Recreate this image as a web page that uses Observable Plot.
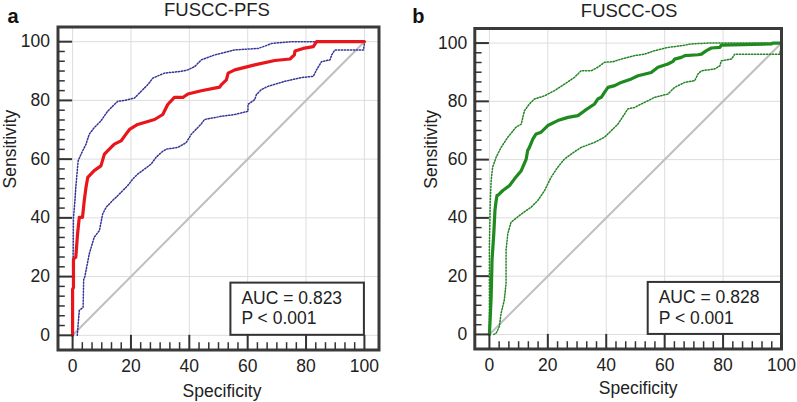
<!DOCTYPE html>
<html>
<head>
<meta charset="utf-8">
<script src="https://cdn.jsdelivr.net/npm/d3@7"></script>
<script src="https://cdn.jsdelivr.net/npm/@observablehq/plot@0.6"></script>
<style>
  body { margin: 0; background: #fff; }
  #chart { position: relative; width: 797px; height: 402px; overflow: hidden; background: #fff; }
  #chart svg { position: absolute; top: 0; }
</style>
</head>
<body>
<div id="chart"></div>
<script>
// ---------- data ----------
const majorTicks = [0, 20, 40, 60, 80, 100];
const diagonal = [0, 100];
const panelLetters = ["a", "b"];
const panelTitles = ["FUSCC-PFS", "FUSCC-OS"];
const xLabel = "Specificity";
const yLabel = "Sensitivity";
const pfsStats = ["AUC = 0.823", "P < 0.001"];
const osStats = ["AUC = 0.828", "P < 0.001"];

// [x, sensitivity]
const pfsRoc = [[0,0],[0,15.7],[0.3,16.3],[0.3,26],[1.1,26.6],[1.7,34.5],[2.3,40.2],[3.4,40.2],[4,45.9],[4.6,50.4],[5.2,53.8],[7.4,56.1],[9.7,57.7],[10.9,61.7],[12,62.8],[14.3,65.1],[16.6,66.2],[18.3,68.5],[19.5,70.1],[22.3,71.8],[28.1,73.5],[30.9,75.2],[32.6,78.6],[34.9,81],[37.8,81],[39.5,82.2],[44.1,83.3],[50.4,84.5],[51,85.4],[52.7,87],[53.3,89.3],[55.6,90.4],[62.4,92.1],[69.3,93.6],[74.5,94.1],[76,95.5],[76.2,96.8],[79,97.7],[82.5,98.3],[83.6,100],[100,100]];
const pfsUpper = [[0,0],[0.3,40],[0.8,45.9],[1.1,50.4],[1.5,54.9],[1.9,59.4],[2.9,61.7],[4.6,65.1],[5.7,68.5],[7.4,70.7],[9.7,73],[12,76.3],[14.3,78.6],[15.5,79.7],[17.8,80],[21.2,80.8],[23.5,83.1],[25.8,85.4],[27.5,87.6],[31.5,89.3],[37.2,89.9],[39.5,90.4],[41.8,91.5],[44.1,93.8],[48.7,95.5],[55.6,97.2],[63.6,97.7],[67,98.9],[68.2,99.4],[75,100],[100,100]];
const pfsLower = [[1.6,0],[2.3,8.5],[3.6,9.5],[3.8,19],[4.2,20],[5.7,27.7],[7.4,33.4],[9.2,35.7],[10.3,41.3],[11.5,43.6],[13.7,45.9],[14.9,47],[16.6,48.7],[18.9,51],[20.6,53.2],[22.3,54.9],[24.6,56.6],[26.9,58.3],[28.6,60.6],[30.4,62.3],[32.1,63.4],[36.1,64],[38.9,65.6],[40.7,68.5],[44.1,72],[45.2,73.5],[51,74.6],[55.6,75.2],[60.1,76.3],[60.1,78.6],[62.4,80.3],[63,82],[64.7,83.7],[67,84.8],[72.7,86.5],[78.5,87.8],[82.5,88.2],[83.6,90.4],[85.3,93.2],[88.2,93.8],[88.8,95.5],[89.9,97.2],[99.7,97.2],[100,99.4],[100,100]];

const osRoc = [[0,0],[0.3,6.2],[0.6,13],[0.9,25.5],[1.5,34.6],[1.9,42.6],[2.3,45.9],[2.6,47.7],[2.9,47.7],[4.6,49.4],[6.9,51.1],[8.6,53.4],[10.9,56.2],[12.6,60.2],[13.1,63.1],[13.7,64.2],[14.9,67.1],[16,68.8],[17.7,69.4],[20,71.7],[23.4,73.4],[26.9,74.5],[30.3,75.1],[32.6,76.8],[36,79.1],[37.1,80.8],[38.3,81.4],[39.4,83.1],[40.6,84.8],[42.9,85.4],[45.1,86.5],[48.6,87.7],[50.9,88.8],[55.4,89.9],[57.7,91.7],[61.1,92.8],[62.9,93.7],[63.4,94.5],[65.7,95.1],[66.9,95.7],[71.4,96],[72.6,96.2],[74.3,97.4],[76,98.3],[78.9,98.5],[79.4,99.3],[96.6,99.7],[97,100],[100,100]];
const osUpper = [[0,0],[0,30],[0.3,45.9],[0.6,52.8],[1.1,57.4],[2.3,60.8],[4,64.2],[6.3,67.7],[9.1,71.1],[10.9,72.2],[12,76.8],[13.7,79.1],[15.4,80.8],[18.9,81.9],[22.3,83.7],[25.7,85.9],[29.1,88.2],[31.4,90.5],[34.9,90.5],[37.1,91.7],[39.4,93.4],[42.3,93.6],[45.1,94.5],[49.7,95.7],[53.1,96.2],[56.6,97.4],[61.1,98.5],[65.7,99.1],[69.1,99.7],[75,100],[100,100]];
const osLower = [[1.5,0],[2.3,0.4],[3.4,2.7],[4,7.3],[5.1,11.8],[5.7,17.5],[5.7,28.9],[6.3,34.6],[7.4,38.5],[10.9,41.3],[14.3,43.7],[16.6,46],[18.9,49.4],[20,51.7],[21.1,53.9],[23.4,57.4],[25.7,60.2],[28,61.9],[31.4,64.2],[36,65.9],[39.4,67.7],[41.7,69.9],[44,72.2],[46.3,75.7],[47.4,77.4],[49.7,77.9],[52,79.1],[54.3,80.2],[56.6,81.4],[61.1,82.5],[63.4,84.8],[66.9,86.5],[70.3,87.1],[71.4,89.4],[72.6,90.5],[77.1,91.1],[78.9,92.2],[79.4,93.9],[82.9,94.5],[84,96.2],[99.4,96.2],[100,99.7],[100,100]];

// ---------- drawing ----------
const FONT = '"Liberation Sans", Arial, Helvetica, sans-serif';
const INK = "#222";
const minorTicks = d3.range(1, 30).filter(i => i % 6 !== 0).map(i => i * 20 / 6);

function statsBox(lines, w, h) {
  return (index, scales) => {
    const xr = scales.x(100), yb = scales.y(0);
    const g = d3.create("svg:g");
    g.append("rect").attr("x", xr - w).attr("y", yb - h).attr("width", w).attr("height", h)
      .attr("fill", "#fff").attr("stroke", "#333").attr("stroke-width", 2);
    lines.forEach((t, i) => {
      g.append("text").attr("x", xr - w + 11).attr("y", yb - h + 21.5 + i * 20.3)
        .attr("text-anchor", "start")
        .attr("font-family", FONT).attr("font-size", 17.5).attr("fill", INK).text(t);
    });
    return g.node();
  };
}

function panel(o) {
  return Plot.plot({
    width: o.width, height: 402,
    marginLeft: o.ml, marginRight: o.mr, marginTop: o.mt, marginBottom: o.mb,
    x: {domain: o.xDomain, axis: null},
    y: {domain: [-5, 105], axis: null},
    style: {fontFamily: FONT, fontSize: "17px", color: INK, background: "transparent", overflow: "visible"},
    marks: [
      Plot.ruleX(majorTicks, {stroke: "#dddddd", strokeWidth: 1}),
      Plot.ruleY(majorTicks, {stroke: "#dddddd", strokeWidth: 1}),
      Plot.line(diagonal.map(v => [v, v]), {stroke: "#bfbfbf", strokeWidth: 2}),
      Plot.line(o.upper, {stroke: o.band, strokeWidth: 1.5, strokeDasharray: "1.3,1.7"}),
      Plot.line(o.lower, {stroke: o.band, strokeWidth: 1.5, strokeDasharray: "1.3,1.7"}),
      Plot.line(o.roc, {stroke: o.color, strokeWidth: 3.2, strokeLinejoin: "round"}),
      statsBox(o.stats, o.boxW, o.boxH),
      Plot.frame({stroke: "#3a3a3a", strokeWidth: 3}),
      Plot.ruleY(majorTicks, {x1: -5, x2: 0, stroke: "#333", strokeWidth: 2}),
      Plot.ruleY(minorTicks, {x1: -5, x2: -2.5, stroke: "#333", strokeWidth: 1.5}),
      Plot.ruleX(majorTicks, {y1: -5, y2: 0, stroke: "#333", strokeWidth: 2}),
      Plot.ruleX(minorTicks, {y1: -5, y2: -2.5, stroke: "#333", strokeWidth: 1.5}),
      Plot.text(majorTicks, {x: d => d, frameAnchor: "bottom", text: d => String(d), lineAnchor: "top", dy: 10, fontSize: 17.5, fill: INK}),
      Plot.text(majorTicks, {y: d => d, frameAnchor: "left", text: d => String(d), textAnchor: "end", dx: o.yTickDx, fontSize: 17.5, fill: INK}),
      Plot.text([xLabel], {frameAnchor: "bottom", lineAnchor: "bottom", dx: o.xLabDx, dy: o.xLabDy, fontSize: 17.5, fill: INK}),
      Plot.text([yLabel], {frameAnchor: "left", lineAnchor: "bottom", rotate: -90, dx: o.yLabDx, fontSize: 17.5, fill: INK}),
      Plot.text([o.title], {frameAnchor: "top", lineAnchor: "bottom", dx: o.titleDx, dy: o.titleDy, fontSize: 18.5, fill: INK}),
      Plot.text([o.letter], {frameAnchor: "top-left", textAnchor: "start", lineAnchor: "bottom", dx: o.letterDx, dy: o.letterDy, fontSize: 20, fontWeight: "bold", fill: "#111"})
    ]
  });
}

const chart = document.getElementById("chart");
const a = panel({
  width: 400, ml: 57.5, mr: 21.5, mt: 26.5, mb: 52.5, xDomain: [-5, 105],
  roc: pfsRoc, upper: pfsUpper, lower: pfsLower, color: "#e8161b", band: "#34349a",
  stats: pfsStats, boxW: 133.5, boxH: 52.2,
  yTickDx: -8, xLabDx: 3.5, xLabDy: 46.5, yLabDx: -42.5,
  title: panelTitles[0], titleDx: -1.5, titleDy: -11.5,
  letter: panelLetters[0], letterDx: -50.5, letterDy: -4.5
});
a.style.left = "0px";
chart.appendChild(a);

const b = panel({
  width: 397, ml: 74.3, mr: 16, mt: 28, mb: 53.5, xDomain: [-5, 100],
  roc: osRoc, upper: osUpper, lower: osLower, color: "#1f8a1f", band: "#238423",
  stats: osStats, boxW: 133.3, boxH: 52,
  yTickDx: -7.5, xLabDx: 10, xLabDy: 45, yLabDx: -37.6,
  title: panelTitles[1], titleDx: 1, titleDy: -11.3,
  letter: panelLetters[1], letterDx: -62.6, letterDy: -6
});
b.style.left = "400px";
chart.appendChild(b);
</script>
</body>
</html>
